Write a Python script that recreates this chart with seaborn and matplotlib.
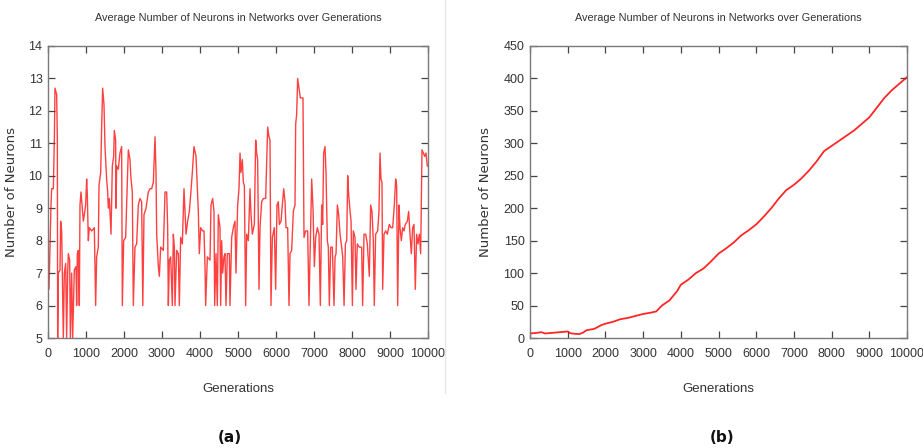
import matplotlib
matplotlib.use("Agg")
import matplotlib.pyplot as plt
import seaborn as sns
import pandas as pd

# ---------------- data: panel (a) ----------------
gen_a = [0, 26, 79, 96, 140, 167, 184, 228, 246, 254, 272, 316, 333, 360, 377, 403, 430, 465, 491, 517,
         535, 570, 588, 623, 649, 693, 737, 754, 772, 798, 824, 842, 868, 903, 930, 956, 991, 1017, 1035, 1061,
         1087, 1149, 1219, 1254, 1280, 1324, 1342, 1386, 1412, 1438, 1473, 1500, 1526, 1543, 1570, 1587, 1614, 1658, 1693, 1728,
         1745, 1780, 1789, 1807, 1850, 1894, 1938, 1956, 1991, 2043, 2114, 2157, 2184, 2219, 2245, 2289, 2333, 2377, 2420, 2464,
         2495, 2526, 2579, 2640, 2684, 2728, 2772, 2816, 2842, 2860, 2904, 2930, 2965, 3035, 3079, 3123, 3149, 3167, 3193, 3228,
         3272, 3298, 3325, 3342, 3386, 3430, 3456, 3491, 3535, 3579, 3605, 3632, 3675, 3719, 3754, 3798, 3842, 3895, 3930, 3956,
         3982, 4018, 4070, 4105, 4132, 4149, 4193, 4263, 4290, 4333, 4368, 4386, 4421, 4456, 4482, 4526, 4544, 4570, 4596, 4631,
         4658, 4684, 4719, 4772, 4789, 4833, 4877, 4921, 4947, 4991, 5026, 5053, 5079, 5114, 5140, 5167, 5202, 5228, 5272, 5316,
         5342, 5377, 5430, 5465, 5491, 5517, 5553, 5579, 5623, 5667, 5728, 5781, 5816, 5842, 5868, 5904, 5956, 5991, 6026, 6061,
         6088, 6132, 6167, 6202, 6237, 6263, 6307, 6342, 6369, 6412, 6456, 6500, 6518, 6544, 6570, 6605, 6640, 6675, 6710, 6737,
         6781, 6833, 6868, 6904, 6939, 6974, 7009, 7044, 7088, 7132, 7167, 7202, 7228, 7254, 7290, 7316, 7351, 7377, 7404, 7439,
         7483, 7527, 7554, 7580, 7615, 7650, 7685, 7729, 7756, 7791, 7826, 7861, 7887, 7914, 7949, 7975, 8010, 8035, 8079, 8105,
         8140, 8193, 8254, 8280, 8316, 8360, 8403, 8456, 8491, 8526, 8561, 8587, 8622, 8675, 8710, 8737, 8763, 8789, 8807, 8842,
         8886, 8930, 8982, 9026, 9070, 9114, 9149, 9175, 9202, 9237, 9263, 9298, 9333, 9368, 9403, 9456, 9491, 9526, 9561, 9596,
         9631, 9666, 9701, 9737, 9772, 9807, 9842, 9877, 9912, 9947, 9982, 10000]
neurons_a = [7.3, 6.5, 9.1, 9.6, 9.6, 11.1, 12.7, 12.5, 11.1, 5.0, 7.0, 7.1, 8.6, 8.3, 7.0, 5.0, 7.0, 7.3, 5.0, 7.0,
             7.6, 7.4, 5.0, 7.0, 5.0, 7.1, 7.2, 6.0, 7.6, 7.7, 6.0, 9.1, 9.5, 9.0, 8.6, 8.8, 9.1, 9.9, 9.4, 8.0,
             8.4, 8.3, 8.4, 6.0, 7.5, 7.8, 9.7, 10.1, 11.5, 12.7, 12.2, 10.9, 10.3, 9.9, 9.5, 9.0, 9.3, 8.2, 10.3, 10.6,
             11.4, 11.1, 9.0, 10.3, 10.2, 10.7, 10.9, 6.0, 8.0, 8.1, 10.8, 10.5, 9.9, 9.5, 6.0, 7.8, 7.9, 9.1, 9.3, 9.2,
             6.0, 8.8, 9.0, 9.5, 9.6, 9.6, 9.8, 11.2, 10.1, 8.2, 7.2, 6.9, 7.8, 7.7, 9.5, 9.5, 8.4, 6.0, 7.4, 7.5,
             6.0, 8.2, 7.8, 6.0, 7.7, 7.6, 6.0, 8.1, 7.9, 9.6, 8.9, 8.2, 8.6, 8.9, 9.4, 10.1, 10.9, 10.6, 9.6, 8.9,
             7.6, 8.4, 8.3, 8.3, 7.2, 6.0, 7.5, 7.4, 9.1, 9.3, 8.9, 6.0, 7.6, 6.0, 8.8, 8.4, 6.0, 8.0, 7.0, 7.5,
             7.6, 6.0, 7.6, 7.6, 6.0, 8.1, 8.4, 8.6, 7.0, 9.1, 9.6, 10.7, 10.1, 10.5, 9.8, 9.7, 6.0, 8.2, 8.0, 9.6,
             8.8, 8.2, 8.5, 11.1, 10.7, 10.5, 6.5, 8.4, 9.2, 9.3, 9.3, 11.5, 11.2, 11.1, 6.0, 8.1, 8.4, 6.5, 9.1, 9.2,
             8.5, 8.6, 9.1, 9.6, 9.2, 8.4, 8.4, 6.0, 7.6, 7.7, 8.9, 9.1, 11.6, 11.9, 13.0, 12.7, 12.4, 12.4, 12.4, 8.1,
             8.3, 8.3, 6.0, 8.0, 9.9, 9.0, 7.2, 8.1, 8.4, 8.2, 6.0, 9.1, 8.5, 10.7, 10.9, 10.1, 8.0, 7.8, 6.0, 7.8,
             7.8, 6.0, 7.5, 7.6, 9.1, 8.8, 8.2, 7.8, 7.5, 6.0, 7.9, 8.0, 10.0, 9.4, 8.9, 8.6, 6.0, 8.3, 8.1, 6.5,
             7.9, 7.8, 7.8, 6.0, 8.2, 8.2, 7.9, 6.9, 9.1, 8.9, 8.0, 6.0, 8.2, 8.3, 8.9, 10.7, 9.9, 9.8, 6.5, 8.2,
             8.3, 8.2, 8.5, 8.4, 8.4, 9.1, 9.9, 9.7, 6.0, 9.1, 8.4, 8.0, 8.4, 8.3, 8.5, 8.6, 8.9, 8.2, 7.6, 8.4,
             8.5, 6.5, 8.2, 7.9, 8.2, 7.6, 10.8, 10.7, 10.6, 10.7, 10.3, 10.3]

# ---------------- data: panel (b) ----------------
gen_b = [0, 200, 300, 400, 600, 800, 1000, 1050, 1100, 1300, 1400, 1500, 1700, 1800, 1900, 2000, 2200, 2400,
         2600, 2800, 3000, 3200, 3350, 3500, 3700, 3900, 4000, 4200, 4400, 4600, 4800, 5000, 5200, 5400, 5600,
         5800, 6000, 6200, 6400, 6600, 6800, 7000, 7200, 7400, 7600, 7800, 8000, 8200, 8400, 8600, 8800, 9000,
         9200, 9400, 9600, 9800, 10000]
neurons_b = [7, 8, 9, 7, 8, 9, 10, 8, 7, 6, 8, 12, 14, 17, 20, 22, 25, 29,
             31, 34, 37, 39, 41, 50, 58, 72, 82, 90, 100, 107, 118, 130, 138, 147, 158,
             166, 175, 187, 200, 215, 228, 236, 246, 258, 272, 288, 296, 304, 312, 320, 330, 340,
             355, 370, 382, 392, 402]

title = "Average Number of Neurons in Networks over Generations"
xlabel = "Generations"
ylabel = "Number of Neurons"
panel_labels = ["(a)", "(b)"]
xticks = [0, 1000, 2000, 3000, 4000, 5000, 6000, 7000, 8000, 9000, 10000]
yticks_a = [5, 6, 7, 8, 9, 10, 11, 12, 13, 14]
yticks_b = [0, 50, 100, 150, 200, 250, 300, 350, 400, 450]

df_a = pd.DataFrame({"gen": gen_a, "n": neurons_a})
df_b = pd.DataFrame({"gen": gen_b, "n": neurons_b})

sns.set_theme(style="white")
narrow = ["DejaVu Sans Condensed", "Liberation Sans Narrow", "Liberation Sans"]
plt.rcParams["font.family"] = ["DejaVu Sans"]

fig = plt.figure(figsize=(9.23, 4.48), dpi=100)
ax1 = fig.add_axes([48 / 923, 1 - 338 / 448, 380 / 923, 292 / 448])
ax2 = fig.add_axes([530 / 923, 1 - 338 / 448, 377 / 923, 292 / 448])

sns.lineplot(data=df_a, x="gen", y="n", ax=ax1, color="#ff0000", linewidth=1.0,
             alpha=0.75, estimator=None, sort=False)
sns.lineplot(data=df_b, x="gen", y="n", ax=ax2, color="#ff0000", linewidth=1.3,
             alpha=0.85, estimator=None, sort=False)

for ax, yt, lim, lab_x in [(ax1, yticks_a, (5, 14), -0.079), (ax2, yticks_b, (0, 450), -0.10)]:
    ax.set_xlim(0, 10000)
    ax.set_ylim(*lim)
    ax.set_xticks(xticks)
    ax.set_yticks(yt)
    ax.set_xticklabels([str(t) for t in xticks], family=narrow, fontsize=9, color="#333333")
    ax.set_yticklabels([str(t) for t in yt], family=narrow, fontsize=9, color="#333333")
    ax.tick_params(axis="x", pad=7)
    ax.tick_params(axis="y", pad=4)
    ax.tick_params(axis="both", direction="in", length=5, width=0.9, color="#444444",
                   top=True, right=True, bottom=True, left=True)
    for s in ax.spines.values():
        s.set_color("#7a7a7a")
        s.set_linewidth(1.0)
    ax.set_xlabel(xlabel, family=narrow, fontsize=9.5, color="#333333")
    ax.set_ylabel(ylabel, fontsize=9.5, color="#333333")
    ax.xaxis.set_label_coords(0.5, -0.155)
    ax.yaxis.set_label_coords(lab_x, 0.5)
    ax.set_title(title, family=narrow, fontsize=7.8, color="#333333", pad=18)
    ax.grid(False)

fig.text(230 / 923, 1 - 437 / 448, panel_labels[0], ha="center", va="center",
         fontsize=11, fontweight="bold", color="#111111")
fig.text(722 / 923, 1 - 437 / 448, panel_labels[1], ha="center", va="center",
         fontsize=11, fontweight="bold", color="#111111")

fig.add_artist(plt.Line2D([445 / 923, 445 / 923], [1 - 393 / 448, 1.0],
                          transform=fig.transFigure, color="#e6e6e6", linewidth=1))

fig.savefig("out.png", dpi=100)
